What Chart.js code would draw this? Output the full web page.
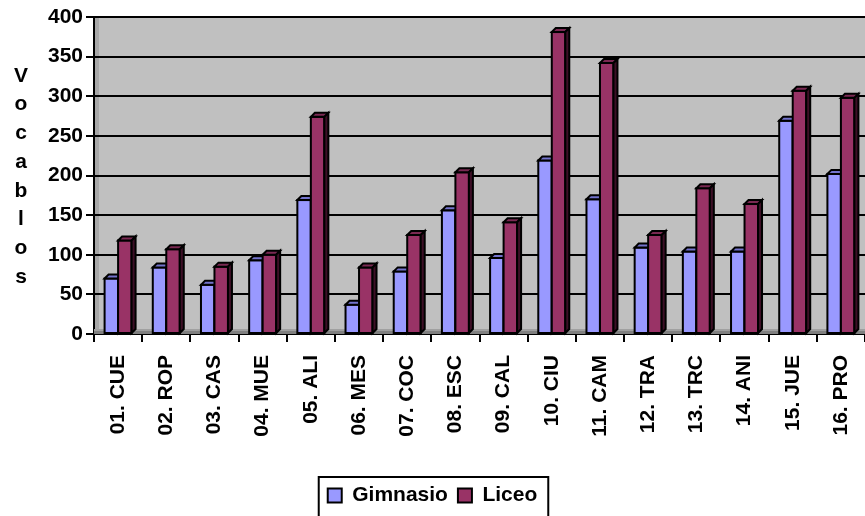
<!DOCTYPE html>
<html>
<head>
<meta charset="utf-8">
<script src="https://cdn.jsdelivr.net/npm/chart.js@4/dist/chart.umd.min.js"></script>
<style>
  html, body { margin: 0; padding: 0; background: #ffffff; }
  #wrap { width: 865px; height: 516px; position: relative; }
</style>
</head>
<body>
<div id="wrap"><canvas id="c" width="865" height="516"></canvas></div>
<script>
const categories = ['01. CUE','02. ROP','03. CAS','04. MUE','05. ALI','06. MES','07. COC','08. ESC','09. CAL','10. CIU','11. CAM','12. TRA','13. TRC','14. ANI','15. JUE','16. PRO'];
const gimnasio = [70, 84, 62, 93, 169, 37, 79, 156, 96, 219, 170, 109, 104, 104, 269, 202];
const liceo = [118, 107, 85, 100, 274, 84, 125, 204, 141, 381, 342, 125, 184, 164, 307, 298];
const seriesNames = ['Gimnasio', 'Liceo'];
const yTitleLetters = ['V','o','c','a','b','l','o','s'];

const FONT = '"Liberation Sans", Arial, sans-serif';
const frontColors = ['#9999FF', '#993366'];
const topColors = ['#7373CC', '#7A2952'];
const sideColors = ['#4D4D99', '#3D0F26'];
const DEPTH = 4;

const bar3d = {
  id: 'bar3d',
  beforeDatasetsDraw(chart) {
    const {ctx, chartArea: a} = chart;
    ctx.save();
    ctx.fillStyle = '#808080';
    ctx.fillRect(a.left, a.bottom - 5, a.right - a.left, 5);
    ctx.fillStyle = '#A0A0A0';
    ctx.fillRect(a.left, a.bottom - 5, a.right - a.left, 2);
    ctx.restore();
  },
  afterDatasetsDraw(chart) {
    const {ctx} = chart;
    const metas = [chart.getDatasetMeta(0), chart.getDatasetMeta(1)];
    ctx.save();
    ctx.lineWidth = 2;
    ctx.strokeStyle = '#000';
    ctx.lineJoin = 'miter';
    for (let i = 0; i < categories.length; i++) {
      metas.forEach((meta, d) => {
        const el = meta.data[i];
        if (!el) return;
        const {x, y, base, width} = el.getProps(['x','y','base','width'], true);
        const l = x - width / 2, r = x + width / 2;
        ctx.fillStyle = frontColors[d];
        ctx.fillRect(l, y, width, base - y);
        ctx.strokeRect(l, y, width, base - y);
        ctx.beginPath();
        ctx.moveTo(l, y);
        ctx.lineTo(l + DEPTH, y - DEPTH);
        ctx.lineTo(r + DEPTH, y - DEPTH);
        ctx.lineTo(r, y);
        ctx.closePath();
        ctx.fillStyle = topColors[d];
        ctx.fill();
        ctx.stroke();
        ctx.beginPath();
        ctx.moveTo(r, y);
        ctx.lineTo(r + DEPTH, y - DEPTH);
        ctx.lineTo(r + DEPTH, base - DEPTH);
        ctx.lineTo(r, base);
        ctx.closePath();
        ctx.fillStyle = sideColors[d];
        ctx.fill();
        ctx.stroke();
      });
    }
    ctx.restore();
  },
  afterDraw(chart) {
    const {ctx} = chart;
    ctx.save();
    ctx.fillStyle = '#000';
    ctx.font = 'bold 21px ' + FONT;
    ctx.textAlign = 'center';
    ctx.textBaseline = 'middle';
    yTitleLetters.forEach((ch, k) => ctx.fillText(ch, 21, 76 + k * 28.7));
    const lg = chart.legend;
    if (lg && lg.legendHitBoxes && lg.legendHitBoxes.length) {
      const hb = lg.legendHitBoxes;
      const minL = Math.min(...hb.map(h => h.left));
      const maxR = Math.max(...hb.map(h => h.left + h.width));
      const top = Math.min(...hb.map(h => h.top));
      ctx.strokeStyle = '#000';
      ctx.lineWidth = 2;
      ctx.strokeRect(minL - 9, top - 8, maxR - minL + 20, 60);
    }
    ctx.restore();
  }
};

const wallBg = {
  id: 'wallBg',
  beforeDraw(chart) {
    const {ctx, chartArea: a} = chart;
    ctx.save();
    ctx.fillStyle = '#C0C0C0';
    ctx.fillRect(a.left, a.top, a.right - a.left, a.bottom - a.top);
    ctx.fillStyle = '#A8A8A8';
    ctx.fillRect(a.left, a.top, 5, a.bottom - a.top);
    ctx.strokeStyle = '#808080';
    ctx.lineWidth = 2;
    ctx.beginPath();
    ctx.moveTo(a.left, a.top);
    ctx.lineTo(a.right, a.top);
    ctx.stroke();
    ctx.restore();
  }
};

new Chart(document.getElementById('c'), {
  type: 'bar',
  data: {
    labels: categories,
    datasets: [
      { label: seriesNames[0], data: gimnasio, backgroundColor: frontColors[0], borderColor: '#000', borderWidth: 2, categoryPercentage: 0.56, barPercentage: 1 },
      { label: seriesNames[1], data: liceo, backgroundColor: frontColors[1], borderColor: '#000', borderWidth: 2, categoryPercentage: 0.56, barPercentage: 1 }
    ]
  },
  options: {
    responsive: false,
    animation: false,
    layout: { padding: { top: 17, right: 0, left: 0, bottom: 0 } },
    plugins: {
      title: { display: false },
      tooltip: { enabled: false },
      legend: {
        position: 'bottom',
        labels: {
          color: '#000',
          font: { family: FONT, size: 21, weight: 'bold' },
          boxWidth: 14, boxHeight: 14, padding: 10
        }
      }
    },
    scales: {
      x: {
        offset: true,
        grid: { display: true, offset: true, drawOnChartArea: false, color: '#000', lineWidth: 2, tickLength: 8 },
        border: { display: true, color: '#000', width: 2 },
        ticks: {
          color: '#000', font: { family: FONT, size: 21, weight: 'bold' },
          minRotation: 90, maxRotation: 90, autoSkip: false, padding: 13
        },
        afterFit(scale) { scale.height = 141; scale.paddingRight = 0; scale.paddingLeft = 0; }
      },
      y: {
        min: 0, max: 400,
        grid: { color: '#000', lineWidth: 2, tickLength: 8 },
        border: { display: true, color: '#000', width: 2 },
        ticks: {
          stepSize: 50, color: '#000', padding: 3,
          font: { family: FONT, size: 21, weight: 'bold' }
        },
        afterFit(scale) { scale.width = 94; }
      }
    }
  },
  plugins: [wallBg, bar3d]
});
</script>
</body>
</html>
